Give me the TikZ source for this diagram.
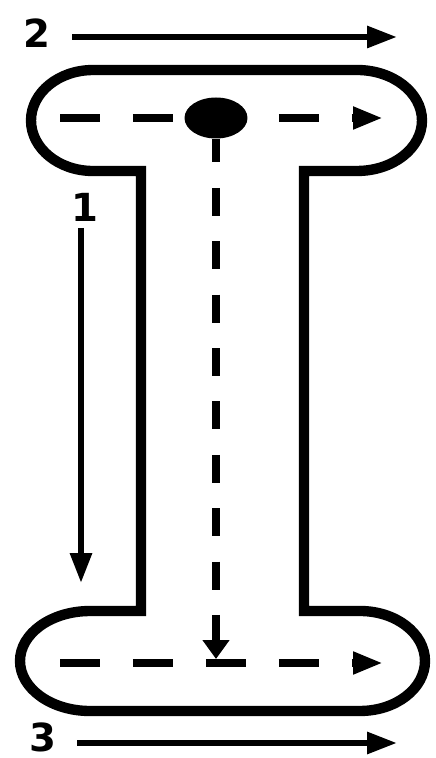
\documentclass[tikz,border=0pt]{standalone}
\usepackage{fontspec}
\setmainfont{DejaVu Sans}
\usetikzlibrary{arrows.meta, positioning, shapes.geometric}

\begin{document}
\begin{tikzpicture}[x=0.02cm, y=0.02cm,
    outline/.style={line width=5.9pt},
    flow/.style={line width=4.5pt, dash pattern=on 0.8cm off 0.66cm,
                 -{Triangle[length=0.6cm, width=0.42cm]}},
    drop/.style={line width=4.5pt, dash pattern=on 0.56cm off 0.508cm, dash phase=0.088cm,
                 -{Triangle[length=0.38cm, width=0.52cm]}},
    arr/.style={line width=3.4pt, -{Triangle[length=0.6cm, width=0.42cm]}},
    lbl/.style={font=\bfseries\fontsize{22}{22}\selectfont, inner sep=0pt},
    dot/.style={ellipse, fill=black, inner sep=0pt, minimum width=1.26cm, minimum height=0.82cm},
]
\useasboundingbox (0,0) rectangle (436,758);

% outline of the section
\draw[outline] (141,587) -- (93,587)
    arc[start angle=270, end angle=90, x radius=1.24cm, y radius=1.01cm] -- (357,688)
    arc[start angle=90, end angle=-90, x radius=1.3cm, y radius=1.01cm] -- (304,587) -- (304,147) -- (360,147)
    arc[start angle=90, end angle=-90, x radius=1.3cm, y radius=1cm] -- (90,47)
    arc[start angle=270, end angle=90, x radius=1.4cm, y radius=1cm] -- (141,147) -- cycle;

% dashed paths inside
\coordinate (t0) at (60,640);
\coordinate (t1) at (383,640);
\coordinate (b0) at (60,95);
\coordinate (b1) at (383,95);
\coordinate (dtip) at (216,99);
\draw[flow] (t0) -- (t1);
\draw[flow] (b0) -- (b1);
\node[dot] (src) at (216,640) {};
\draw[drop] (src.south) -- (dtip);

% numbered arrows
\node[lbl] (n1) at (85,551) {1};
\node[lbl] (n2) at (37,725) {2};
\node[lbl] (n3) at (43,21) {3};
\coordinate (s1) at (81,530);
\coordinate (e1) at (81,175);
\coordinate (s2) at (72,721);
\coordinate (e2) at (397,721);
\coordinate (s3) at (77,15);
\coordinate (e3) at (397,15);
\draw[arr] (s1) -- (e1);
\draw[arr] (s2) -- (e2);
\draw[arr] (s3) -- (e3);
\end{tikzpicture}
\end{document}
